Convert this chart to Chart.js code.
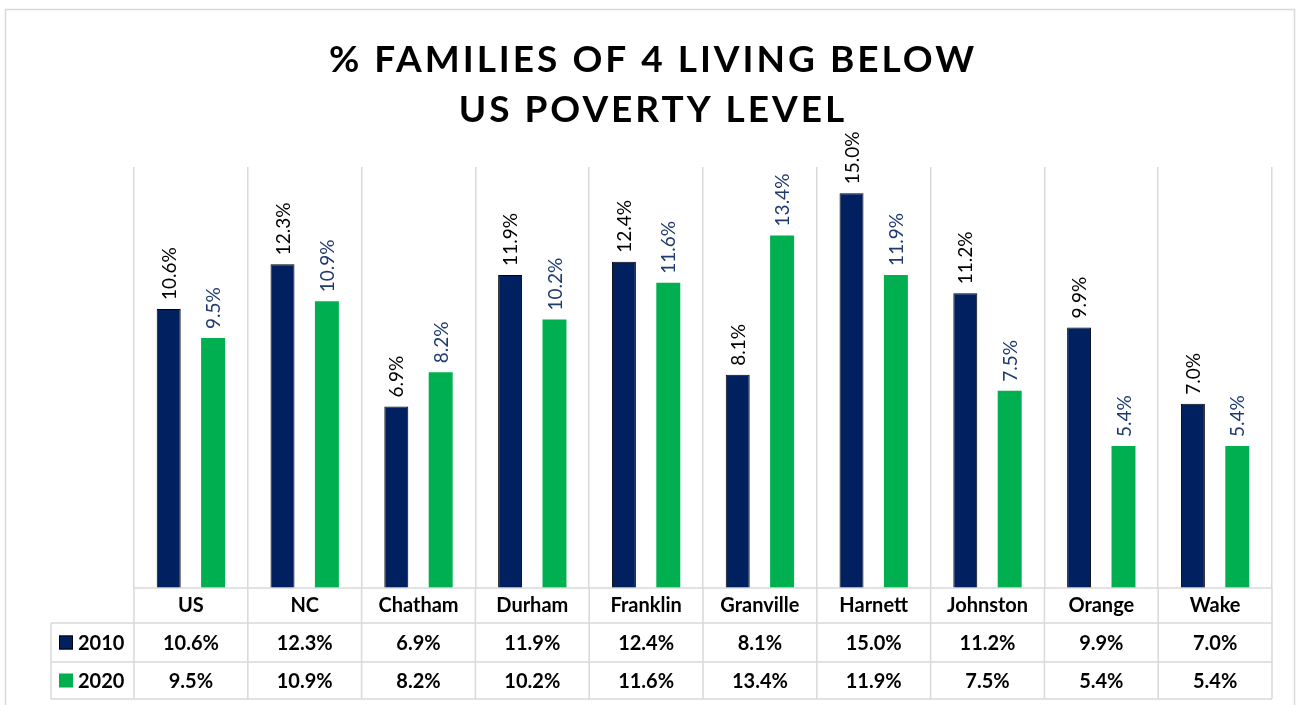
<!DOCTYPE html>
<html>
<head>
<meta charset="utf-8">
<script src="https://cdn.jsdelivr.net/npm/chart.js@4/dist/chart.umd.min.js"></script>
<style>
  html, body { margin: 0; padding: 0; background: #fff; }
  canvas { display: block; }
</style>
</head>
<body>
<canvas id="chart" width="1299" height="705"></canvas>
<script>
// chart data
const categories = ['US', 'NC', 'Chatham', 'Durham', 'Franklin', 'Granville', 'Harnett', 'Johnston', 'Orange', 'Wake'];
const values2010 = [10.6, 12.3, 6.9, 11.9, 12.4, 8.1, 15.0, 11.2, 9.9, 7.0];
const values2020 = [9.5, 10.9, 8.2, 10.2, 11.6, 13.4, 11.9, 7.5, 5.4, 5.4];
const seriesNames = ['2010', '2020'];
const titleLines = ['% FAMILIES OF 4 LIVING BELOW', 'US POVERTY LEVEL'];

const NAVY = '#002060';
const GREEN = '#00B050';
const GRID = '#D9D9D9';
const FONT = 'Lato, "Open Sans", sans-serif';

const fmt = v => v.toFixed(1) + '%';

// frame + title
const framePlugin = {
    id: 'frame',
    beforeDraw(chart) {
        const ctx = chart.ctx;
        ctx.save();
        ctx.strokeStyle = GRID;
        ctx.lineWidth = 1.5;
        ctx.strokeRect(5.5, 9.5, 1289, 720);
        ctx.restore();
    },
    afterDraw(chart) {
        const ctx = chart.ctx;
        ctx.save();
        ctx.fillStyle = '#000';
        ctx.font = 'bold 37px ' + FONT;
        ctx.textAlign = 'center';
        ctx.textBaseline = 'alphabetic';
        ctx.letterSpacing = '3px';
        titleLines.forEach((line, i) => {
            ctx.fillText(line, 653, 72 + i * 50);
        });
        ctx.restore();
    }
};

// rotated value labels above bars
const barLabels = {
    id: 'barLabels',
    afterDatasetsDraw(chart) {
        const ctx = chart.ctx;
        ctx.save();
        ctx.font = '19px ' + FONT;
        ctx.textAlign = 'left';
        ctx.textBaseline = 'middle';
        chart.data.datasets.forEach((ds, di) => {
            const meta = chart.getDatasetMeta(di);
            ctx.fillStyle = di === 0 ? '#000' : '#1F3A70';
            meta.data.forEach((bar, i) => {
                ctx.save();
                ctx.translate(bar.x + 1, bar.y - 9);
                ctx.rotate(-Math.PI / 2);
                ctx.fillText(fmt(ds.data[i]), 0, 0);
                ctx.restore();
            });
        });
        ctx.restore();
    }
};

// data table under the x axis
const dataTable = {
    id: 'dataTable',
    afterDraw(chart) {
        const ctx = chart.ctx;
        const xs = chart.scales.x;
        const area = chart.chartArea;
        const step = (area.right - area.left) / categories.length;
        const rows = [area.bottom, area.bottom + 35, area.bottom + 74, area.bottom + 111];
        const legendLeft = 51;

        ctx.save();
        ctx.strokeStyle = GRID;
        ctx.lineWidth = 1.5;
        ctx.beginPath();
        // horizontal lines
        ctx.moveTo(area.left, rows[0]);
        ctx.lineTo(area.right, rows[0]);
        for (let r = 1; r < rows.length; r++) {
            ctx.moveTo(legendLeft, rows[r]);
            ctx.lineTo(area.right, rows[r]);
        }
        // vertical lines
        for (let i = 0; i <= categories.length; i++) {
            const x = area.left + i * step;
            ctx.moveTo(x, rows[0]);
            ctx.lineTo(x, rows[3]);
        }
        ctx.moveTo(legendLeft, rows[1]);
        ctx.lineTo(legendLeft, rows[3]);
        ctx.stroke();

        ctx.font = 'bold 20px ' + FONT;
        ctx.fillStyle = '#000';
        ctx.textBaseline = 'middle';
        const series = [values2010, values2020];
        const colors = [NAVY, GREEN];
        series.forEach((vals, s) => {
            const yMid = (rows[s + 1] + rows[s + 2]) / 2;
            ctx.textAlign = 'center';
            vals.forEach((v, i) => {
                ctx.fillText(fmt(v), xs.getPixelForValue(i), yMid + 1);
            });
            // legend key
            ctx.fillStyle = colors[s];
            ctx.fillRect(59, yMid - 7, 14, 14);
            if (s === 0) {
                ctx.strokeStyle = '#000';
                ctx.lineWidth = 1;
                ctx.strokeRect(59.5, yMid - 6.5, 13, 13);
            }
            ctx.fillStyle = '#000';
            ctx.textAlign = 'left';
            ctx.fillText(seriesNames[s], 78, yMid + 1);
        });
        ctx.restore();
    }
};

new Chart(document.getElementById('chart'), {
    type: 'bar',
    data: {
        labels: categories,
        datasets: [
            {
                label: seriesNames[0],
                data: values2010,
                backgroundColor: NAVY,
                borderColor: '#000',
                borderWidth: 1
            },
            {
                label: seriesNames[1],
                data: values2020,
                backgroundColor: GREEN,
                borderWidth: 0
            }
        ]
    },
    options: {
        responsive: false,
        animation: false,
        categoryPercentage: 0.78,
        barPercentage: 0.54,
        layout: {
            padding: { left: 134, right: 27, top: 167, bottom: 0 }
        },
        plugins: {
            legend: { display: false },
            title: { display: false },
            tooltip: { enabled: false }
        },
        scales: {
            x: {
                grid: {
                    color: GRID,
                    lineWidth: 1.5,
                    drawTicks: false,
                    offset: true
                },
                border: { display: false },
                ticks: {
                    color: '#000',
                    font: { family: FONT, size: 20, weight: 'bold' },
                    padding: 6,
                    maxRotation: 0
                },
                afterFit(scale) {
                    scale.height = 117;
                }
            },
            y: {
                display: false,
                min: 0,
                max: 16
            }
        }
    },
    plugins: [framePlugin, barLabels, dataTable]
});
</script>
</body>
</html>
